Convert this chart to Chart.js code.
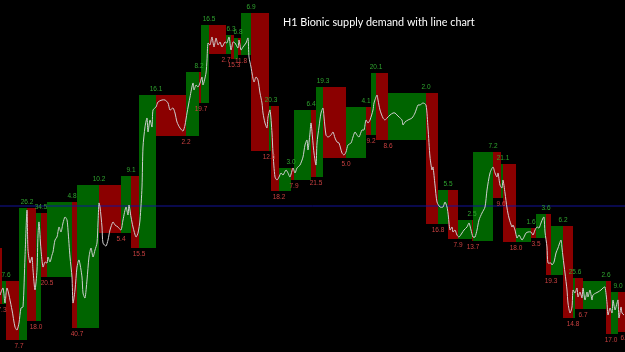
<!DOCTYPE html>
<html>
<head>
<meta charset="utf-8">
<script src="https://cdn.jsdelivr.net/npm/chart.js@4.4.0/dist/chart.umd.min.js"></script>
<style>
  html, body { margin: 0; padding: 0; background: #000; }
  #wrap { width: 625px; height: 352px; }
</style>
</head>
<body>
<div id="wrap"><canvas id="chart" width="625" height="352"></canvas></div>
<script>
// chart units: x = time slot, y = price level (drawn top-down)
const chartTitle = 'H1 Bionic supply demand with line chart';

// supply / demand zones, left to right (edges shared by neighbours)
const boxEdges = [0, 2, 6, 19, 27, 36, 41, 47, 72, 77,
  99, 121, 131, 139, 156, 186, 199, 201, 209, 226,
  231, 234, 238, 241, 251, 269, 271, 279, 291, 294,
  311, 316, 323, 346, 366, 371, 376, 388, 426, 438,
  448, 458, 472, 473, 493, 501, 503, 516, 531, 536,
  546, 551, 563, 573, 575, 583, 606, 611, 618, 625];
const boxKind = ['R', 'G', 'R', 'G', 'R', 'G', 'R', 'G', 'R', 'G',
  'R', 'G', 'R', 'G', 'R', 'G', 'R', 'G', 'R', 'G',
  'R', 'G', 'R', 'G', 'R', 'G', 'R', 'G', 'R', 'G',
  'R', 'G', 'R', 'G', 'R', 'G', 'R', 'G', 'R', 'G',
  'R', 'G', 'R', 'G', 'R', 'G', 'R', 'G', 'R', 'G',
  'R', 'G', 'R', 'G', 'R', 'G', 'R', 'G', 'R'];
const boxTop = [248, 281, 281, 208, 208, 213, 213, 202, 202, 185,
  185, 176, 176, 95, 95, 72, 72, 25, 25, 35,
  35, 38, 38, 13, 13, 106, 106, 168, 168, 110,
  110, 87, 87, 107, 107, 73, 73, 93, 93, 190,
  190, 220, 220, 152, 152, 164, 164, 228, 228, 214,
  214, 226, 226, 278, 278, 281, 281, 292, 292];
const boxBottom = [304, 304, 340, 340, 321, 321, 277, 277, 328, 328,
  233, 233, 248, 248, 136, 136, 103, 103, 54, 54,
  59, 59, 55, 55, 151, 151, 191, 191, 180, 180,
  177, 177, 158, 158, 135, 135, 140, 140, 224, 224,
  239, 239, 241, 241, 198, 198, 242, 242, 238, 238,
  275, 275, 318, 318, 309, 309, 334, 334, 332];
const boxLabels = ['7.3', '7.6', '7.7', '26.2', '18.0', '34.5', '20.5', '4.8', '40.7', '10.2',
  '5.4', '9.1', '15.5', '16.1', '2.2', '8.2', '19.7', '16.5', '2.7', '6.3',
  '15.3', '6.8', '11.8', '6.9', '12.6', '20.3', '18.2', '3.0', '7.9', '6.4',
  '21.5', '19.3', '5.0', '4.1', '9.2', '20.1', '8.6', '2.0', '16.8', '5.5',
  '7.9', '2.5', '13.7', '7.2', '9.6', '21.1', '18.0', '1.6', '3.5', '3.6',
  '19.3', '6.2', '14.8', '25.6', '6.7', '2.6', '17.0', '9.0', '6.8'];

// price line
const lineX = [0, 3, 5, 7, 12, 15, 17, 19, 21, 23, 25, 27, 28, 30, 32, 33, 35, 37, 38, 39,
  41, 43, 45, 47, 48, 50, 52, 53, 55, 57, 59, 61, 63, 65, 67, 68, 70, 72, 73, 75,
  77, 79, 82, 83, 85, 87, 89, 91, 93, 95, 97, 98, 99, 100, 102, 103, 106, 108, 110, 113,
  115, 118, 121, 123, 126, 128, 129, 131, 133, 136, 138, 140, 142, 143, 145, 147, 148, 150, 152, 153,
  156, 158, 162, 165, 168, 170, 173, 175, 177, 180, 183, 185, 187, 190, 193, 194, 196, 198, 200, 202,
  203, 206, 207, 208, 210, 212, 214, 216, 218, 220, 222, 225, 227, 229, 231, 233, 235, 238, 239, 241,
  243, 246, 248, 249, 251, 252, 254, 256, 258, 260, 262, 263, 265, 267, 268, 270, 272, 273, 275, 277,
  279, 281, 283, 286, 288, 290, 293, 295, 297, 300, 303, 305, 307, 308, 310, 311, 313, 314, 316, 317,
  319, 321, 323, 324, 326, 328, 331, 333, 335, 337, 339, 342, 344, 346, 348, 351, 353, 355, 357, 359,
  362, 364, 366, 368, 370, 373, 374, 377, 378, 380, 383, 385, 387, 390, 393, 395, 397, 399, 402, 403,
  405, 408, 412, 415, 418, 420, 423, 426, 428, 430, 432, 433, 435, 437, 440, 443, 445, 447, 448, 450,
  452, 453, 455, 457, 459, 462, 464, 467, 469, 471, 473, 475, 477, 479, 482, 485, 487, 490, 493, 495,
  497, 498, 500, 502, 503, 505, 507, 509, 512, 513, 515, 517, 519, 522, 524, 526, 528, 531, 533, 535,
  537, 539, 541, 543, 544, 545, 547, 548, 551, 552, 554, 556, 558, 559, 561, 562, 563, 565, 567, 568,
  570, 572, 573, 575, 577, 578, 580, 582, 583, 585, 587, 588, 590, 592, 593, 596, 598, 601, 603, 605,
  607, 608, 610, 612, 613, 615, 617, 618, 619, 621, 622, 624];
const lineY = [295, 288, 303, 288, 310, 327, 330, 323, 308, 307, 257, 210, 250, 263, 257, 270, 290, 270, 235, 222,
  250, 267, 262, 263, 257, 262, 255, 252, 240, 237, 227, 232, 223, 217, 220, 230, 257, 277, 303, 290,
  267, 260, 277, 293, 298, 280, 257, 248, 257, 250, 243, 223, 203, 207, 227, 243, 246, 240, 230, 222,
  225, 227, 230, 220, 207, 215, 205, 217, 227, 237, 233, 220, 187, 147, 127, 118, 132, 120, 127, 110,
  107, 102, 100, 100, 103, 110, 108, 113, 122, 128, 131, 125, 113, 97, 83, 90, 85, 87, 83, 77,
  85, 73, 60, 43, 45, 37, 47, 38, 45, 42, 47, 42, 43, 37, 50, 42, 43, 48, 40, 50,
  47, 43, 38, 57, 67, 73, 82, 77, 80, 93, 103, 113, 123, 128, 117, 110, 133, 153, 177, 180,
  177, 173, 175, 170, 173, 177, 168, 173, 168, 165, 157, 145, 140, 150, 133, 123, 143, 153, 165, 143,
  127, 113, 108, 117, 135, 137, 135, 132, 138, 142, 143, 153, 155, 152, 145, 143, 137, 132, 135, 137,
  130, 130, 120, 123, 120, 110, 103, 95, 100, 110, 118, 120, 118, 115, 113, 113, 115, 117, 120, 125,
  122, 120, 118, 113, 105, 105, 103, 105, 128, 157, 170, 167, 185, 202, 207, 207, 202, 207, 213, 230,
  227, 232, 230, 235, 237, 233, 230, 227, 223, 230, 237, 237, 230, 220, 213, 207, 190, 173, 167, 173,
  177, 173, 185, 188, 180, 193, 208, 218, 227, 225, 230, 238, 235, 240, 237, 233, 232, 232, 235, 230,
  227, 228, 223, 218, 217, 232, 247, 263, 263, 265, 262, 253, 248, 245, 240, 248, 257, 273, 290, 303,
  313, 307, 290, 293, 288, 297, 292, 298, 288, 300, 292, 297, 290, 300, 295, 293, 292, 290, 288, 287,
  303, 315, 308, 313, 300, 310, 303, 300, 318, 307, 313, 315];

// horizontal reference level
const refLevel = 206;

const greenFill = '#006400';
const redFill = '#8b0000';
const greenText = '#2fa52f';
const redText = '#c94040';

const datasets = [];

// line first so it is drawn on top
datasets.push({
  type: 'line',
  data: lineX.map((x, i) => ({ x: x, y: lineY[i] })),
  borderColor: '#cfcfcf',
  borderWidth: 1,
  pointRadius: 0,
  tension: 0.25,
  fill: false,
  order: 0
});

datasets.push({
  type: 'line',
  data: [{ x: 0, y: refLevel }, { x: 625, y: refLevel }],
  borderColor: '#12129a',
  borderWidth: 1,
  pointRadius: 0,
  fill: false,
  order: 1
});

for (let i = 0; i < boxKind.length; i++) {
  const col = boxKind[i] === 'G' ? greenFill : redFill;
  datasets.push({
    type: 'line',
    data: [{ x: boxEdges[i], y: boxTop[i] }, { x: boxEdges[i + 1], y: boxTop[i] }],
    borderColor: 'rgba(0,0,0,0)',
    borderWidth: 0,
    backgroundColor: col,
    pointRadius: 0,
    fill: { value: boxBottom[i] },
    order: 2
  });
}

// zone labels and title
const textPlugin = {
  id: 'zoneText',
  afterDatasetsDraw(chart) {
    const c = chart.ctx;
    const xs = chart.scales.x;
    const ys = chart.scales.y;
    c.save();
    c.font = '6.5px "Liberation Sans", Arial, sans-serif';
    c.textAlign = 'center';
    c.textBaseline = 'middle';
    for (let i = 0; i < boxKind.length; i++) {
      const px = xs.getPixelForValue(boxEdges[i + 1]);
      if (boxKind[i] === 'G') {
        c.fillStyle = greenText;
        c.fillText(boxLabels[i], px, ys.getPixelForValue(boxTop[i]) - 6);
      } else {
        c.fillStyle = redText;
        c.fillText(boxLabels[i], px, ys.getPixelForValue(boxBottom[i]) + 6);
      }
    }
    c.font = '10.8px Lato, "Open Sans", sans-serif';
    c.fillStyle = '#ffffff';
    c.textAlign = 'left';
    c.textBaseline = 'alphabetic';
    c.fillText(chartTitle, 283, 26);
    c.restore();
  }
};

const ctx = document.getElementById('chart');
new Chart(ctx, {
  type: 'scatter',
  data: { datasets: datasets },
  options: {
    responsive: false,
    animation: false,
    events: [],
    layout: { padding: 0 },
    scales: {
      x: { type: 'linear', min: 0, max: 625, display: false },
      y: { type: 'linear', min: 0, max: 352, reverse: true, display: false }
    },
    plugins: {
      legend: { display: false },
      tooltip: { enabled: false }
    }
  },
  plugins: [textPlugin]
});
</script>
</body>
</html>
